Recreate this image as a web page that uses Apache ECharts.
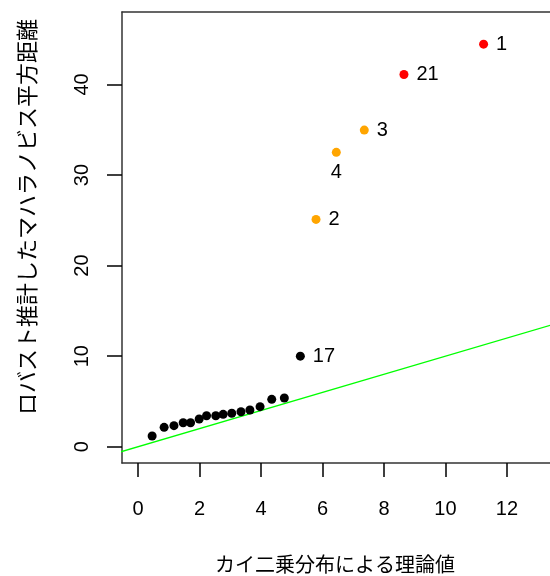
<!DOCTYPE html>
<html>
<head>
<meta charset="utf-8">
<script src="https://cdn.jsdelivr.net/npm/echarts@6/dist/echarts.min.js"></script>
<style>
  html, body { margin: 0; padding: 0; background: #fff; }
  #chart { width: 550px; height: 576px; }
</style>
</head>
<body>
<div id="chart"></div>
<script>
// theoretical chi-square quantiles vs robust squared Mahalanobis distances
var theoX = [0.46, 0.85, 1.17, 1.47, 1.71, 1.99, 2.23, 2.53, 2.77, 3.05, 3.35, 3.64, 3.97, 4.35, 4.76,
             5.28, 5.79, 6.45, 7.36, 8.65, 11.24];
var distY = [1.18, 2.14, 2.32, 2.65, 2.65, 3.06, 3.42, 3.42, 3.57, 3.69, 3.86, 4.05, 4.42, 5.23, 5.38,
             10.0, 25.1, 32.5, 34.96, 41.1, 44.45];
var pointIds = ['', '', '', '', '', '', '', '', '', '', '', '', '', '', '',
                '17', '2', '4', '3', '21', '1'];
var groups = ['n', 'n', 'n', 'n', 'n', 'n', 'n', 'n', 'n', 'n', 'n', 'n', 'n', 'n', 'n',
              'n', 'm', 'm', 'm', 'x', 'x'];
var xTicks = [0, 2, 4, 6, 8, 10, 12];
var yTicks = [0, 10, 20, 30, 40];
var refLine = [[-2, -2], [16, 16]];   // y = x

var xTitle = 'カイ二乗分布による理論値';
var yTitle = 'ロバスト推計したマハラノビス平方距離';

var groupColor = { n: '#000000', m: '#ffa500', x: '#ff0000' };
var belowLabels = ['4'];

function pointsOf(g) {
    var out = [];
    for (var i = 0; i < theoX.length; i++) {
        if (groups[i] !== g) continue;
        var item = { value: [theoX[i], distY[i], pointIds[i]] };
        if (belowLabels.indexOf(pointIds[i]) >= 0) {
            item.label = { position: 'bottom', distance: 6 };
        }
        out.push(item);
    }
    return out;
}

var latin = '"Liberation Sans", Arial, sans-serif';
var cjk = '"Noto Sans CJK JP", sans-serif';
var boxLine = { show: true, onZero: false, lineStyle: { color: '#333', width: 1.5 } };

function scatterSeries(g) {
    return {
        type: 'scatter',
        symbol: 'circle',
        symbolSize: 9,
        z: 3,
        itemStyle: { color: groupColor[g], opacity: 1 },
        label: {
            show: true,
            position: 'right',
            distance: 8,
            color: '#000',
            fontFamily: latin,
            fontSize: 20,
            formatter: function (p) { return p.value[2]; }
        },
        emphasis: { disabled: true },
        data: pointsOf(g)
    };
}

var chart = echarts.init(document.getElementById('chart'), null, { renderer: 'canvas' });
var options = {
    animation: false,
    backgroundColor: '#fff',
    grid: { left: 122, top: 12, right: 0, bottom: 113, show: false },
    xAxis: [{
        type: 'value',
        min: -0.52,
        max: 13.4,
        splitLine: { show: false },
        axisLine: boxLine,
        axisTick: { show: true, length: 14, customValues: xTicks, lineStyle: { color: '#000', width: 1.5 } },
        axisLabel: {
            customValues: xTicks, margin: 36, color: '#000',
            fontFamily: latin, fontSize: 20, lineHeight: 20
        }
    }, {
        // top edge of the plot box
        type: 'value',
        position: 'top',
        min: -0.52,
        max: 13.4,
        splitLine: { show: false },
        axisLine: boxLine,
        axisTick: { show: false },
        axisLabel: { show: false }
    }],
    yAxis: {
        type: 'value',
        min: -1.8,
        max: 48,
        splitLine: { show: false },
        axisLine: boxLine,
        axisTick: { show: true, length: 15, customValues: yTicks, lineStyle: { color: '#000', width: 1.5 } },
        axisLabel: {
            customValues: yTicks, rotate: 90, margin: 30, color: '#000',
            fontFamily: latin, fontSize: 20, lineHeight: 20
        }
    },
    graphic: [{
        type: 'text',
        x: 335, y: 564,
        style: {
            text: xTitle, fill: '#000', font: '20px ' + cjk,
            align: 'center', verticalAlign: 'middle'
        }
    }, {
        type: 'text',
        x: 27, y: 217,
        rotation: Math.PI / 2,
        style: {
            text: yTitle, fill: '#000', font: '22px ' + cjk,
            align: 'center', verticalAlign: 'middle'
        }
    }],
    series: [{
        type: 'line',
        data: refLine,
        showSymbol: false,
        clip: true,
        z: 2,
        lineStyle: { color: '#00ff00', width: 1.3 },
        emphasis: { disabled: true }
    },
        scatterSeries('n'),
        scatterSeries('m'),
        scatterSeries('x')
    ]
};
chart.setOption(options);
</script>
</body>
</html>
